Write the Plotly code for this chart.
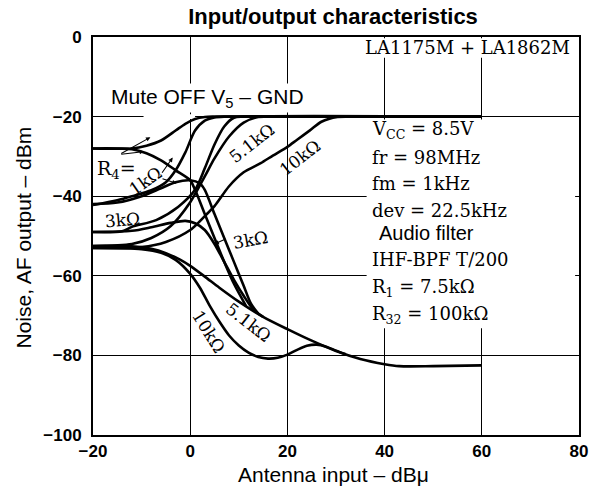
import plotly.graph_objects as go

# ---------------- data ----------------
# Signal (AF output) curves, rising to -20 dBm
sig0_x = [-20, -12, -9, -6, -3, -1, 1, 3, 5, 20, 40, 60]
sig0_y = [-28, -28, -27.3, -26, -23.5, -21.8, -20.6, -20.1, -20, -20, -20, -20]
sig1k_x = [-20, -15, -12, -8, -5, -3, -1, 1, 3, 5, 7, 20, 60]
sig1k_y = [-42.2, -41, -40, -38.5, -36.5, -33.5, -29, -23.5, -21, -20.2, -20, -20, -20]
sig3k_x = [-20, -14, -12, -7, -2.5, 1, 3, 5, 7, 9, 11, 60]
sig3k_y = [-49, -48.8, -47.7, -46, -42.7, -38.4, -33, -27, -22.5, -20.3, -20, -20]
sig5k_x = [-20, -12, -8, -4, 0, 3, 5, 8, 11, 14, 16, 60]
sig5k_y = [-52.5, -52, -50.5, -47.5, -41.5, -35, -30.5, -25, -21.5, -20.1, -20, -20]
sig10k_x = [-20, -10, -5, 0, 3, 5, 8, 11, 14.5, 17, 20, 22, 24.7, 27, 30.3, 33, 60]
sig10k_y = [-53, -52.8, -51.5, -48.5, -45, -42.5, -37.5, -34, -31.7, -29.8, -27.6, -25.8,
            -23.4, -21.3, -20.1, -20, -20]

# Noise curves, falling to about -83 dBm
noi0_x = [-20, -12, -9, -6, -3, 0, 1, 3, 5, 7, 9, 11.5]
noi0_y = [-28, -28.2, -29.2, -31, -33.5, -36, -38.4, -44.5, -50.5, -56.5, -62, -67.6]
noi1k_x = [-20, -15, -10, -6, -3, 0, 2, 3, 5, 7, 9, 11, 12.5, 14]
noi1k_y = [-42, -41.6, -40, -38, -36.5, -36, -36.8, -38.4, -44.5, -50.5, -56.5, -62.5, -67, -69.5]
noi3k_x = [-20, -12, -8, -4, -1, 1, 3, 5, 7, 9, 11, 13, 15]
noi3k_y = [-49, -48.7, -47.8, -46.7, -46.2, -46.8, -48.5, -52, -56.5, -61, -65, -68.5, -70.3]
noi5k_x = [-20, -12, -8, -5, -2, 0, 3, 6, 10, 15, 20, 25, 30, 35, 40, 43, 50, 60]
noi5k_y = [-52.5, -52.6, -53.2, -54.3, -56, -57.5, -60.2, -63, -66.5, -70.3, -73.4, -76.3,
           -78.9, -80.9, -82.2, -82.7, -82.7, -82.5]
noi10k_x = [-20, -10, -6, -3, 0, 2, 4, 6, 8, 10, 12, 14, 16, 18, 20, 22, 24, 26, 28, 30, 32]
noi10k_y = [-53, -53.3, -54.2, -56, -59.5, -63, -67.5, -71.5, -75, -77.5, -79.3, -80.4, -80.8,
            -80.6, -79.8, -78.6, -77.6, -77.3, -77.8, -78.8, -79.7]

x_ticks = [-20, 0, 20, 40, 60, 80]
y_ticks = [0, -20, -40, -60, -80, -100]

conditions = ["V<sub>CC</sub> = 8.5V", "fr = 98MHz", "fm = 1kHz", "dev = 22.5kHz",
              "Audio filter", "IHF-BPF T/200", "R<sub>1</sub> = 7.5kΩ", "R<sub>32</sub> = 100kΩ"]
cond_y = [-23.4, -30.2, -36.7, -43.5, -49.2, -56, -63, -69.8]

SERIF = "DejaVu Serif"
SANS = "Liberation Sans"

fig = go.Figure()
curves = [(sig0_x, sig0_y), (sig1k_x, sig1k_y), (sig3k_x, sig3k_y), (sig5k_x, sig5k_y),
          (sig10k_x, sig10k_y), (noi0_x, noi0_y), (noi1k_x, noi1k_y), (noi3k_x, noi3k_y),
          (noi5k_x, noi5k_y), (noi10k_x, noi10k_y)]
for cx, cy in curves:
    fig.add_trace(go.Scatter(x=cx, y=cy, mode="lines",
                             line=dict(color="black", width=2.6, shape="spline", smoothing=0.8),
                             showlegend=False, hoverinfo="skip"))

# white boxes hiding grid behind the text blocks
fig.add_shape(type="rect", x0=36.3, x1=79.2, y0=-73.2, y1=-20.7, xref="x", yref="y",
              fillcolor="white", line=dict(width=0), layer="between")
fig.add_shape(type="rect", x0=33.0, x1=79.2, y0=-5.2, y1=-0.3, xref="x", yref="y",
              fillcolor="white", line=dict(width=0), layer="between")
fig.add_shape(type="rect", x0=-9.6, x1=1.0, y0=-20.6, y1=-19.4, xref="x", yref="y",
              fillcolor="white", line=dict(width=0), layer="between")

ann = []
ann.append(dict(x=78.6, y=-2.6, text="LA1175M + LA1862M", xanchor="right", yanchor="middle",
                showarrow=False, font=dict(family=SERIF, size=18, color="black")))
for t, yy in zip(conditions, cond_y):
    is_sans = t == "Audio filter"
    ann.append(dict(x=38.4 if is_sans else 37.0, y=yy, text=t, xanchor="left",
                    yanchor="middle", showarrow=False,
                    font=dict(family=SANS if is_sans else SERIF, size=20 if is_sans else 18,
                              color="black")))

ann.append(dict(x=-16.8, y=-15.2, text="Mute OFF V<sub>5</sub> – GND", xanchor="left",
                yanchor="middle", showarrow=False, bgcolor="white",
                font=dict(family=SANS, size=21, color="black")))

# curve labels
ann.append(dict(x=-19.6, y=-33.4, text="R<sub>4</sub>=", xanchor="left", yanchor="middle",
                showarrow=False, font=dict(family=SERIF, size=19, color="black")))
lab = dict(showarrow=False, font=dict(family=SERIF, size=17, color="black"))
ann.append(dict(x=-9.2, y=-36.2, text="1kΩ", textangle=-35, **lab))
ann.append(dict(x=-13.9, y=-46, text="3kΩ", textangle=-5, **lab))
ann.append(dict(x=12.4, y=-51, text="3kΩ", textangle=-10, **lab))
ann.append(dict(x=12.7, y=-26.6, text="5.1kΩ", textangle=-38, **lab))
ann.append(dict(x=22.5, y=-30.4, text="10kΩ", textangle=-38, **lab))
ann.append(dict(x=11.9, y=-71.6, text="5.1kΩ", textangle=38, **lab))
ann.append(dict(x=3.9, y=-74, text="10kΩ", textangle=58, **lab))

# small pointer arrows
arrows = [((-14.5, -29.5), (-8.2, -25.2)), ((-14.5, -29.5), (-9.5, -28.8)),
          ((-6.0, -34.5), (-3.6, -30.3)), ((-6.0, -35.5), (-2.8, -36.8)),
          ((7.6, -50.6), (5.0, -52.0))]
for (sx, sy), (ex, ey) in arrows:
    ann.append(dict(x=ex, y=ey, ax=sx, ay=sy, xref="x", yref="y", axref="x", ayref="y",
                    text="", showarrow=True, arrowhead=2, arrowsize=0.8, arrowwidth=1.1,
                    arrowcolor="black"))

# axis titles
ann.append(dict(x=0.494, y=-0.098, xref="paper", yref="paper", text="Antenna input – dBμ",
                showarrow=False, xanchor="center", yanchor="middle",
                font=dict(family=SANS, size=21, color="black")))
ann.append(dict(x=-0.143, y=0.495, xref="paper", yref="paper", text="Noise, AF output – dBm",
                showarrow=False, textangle=-90, xanchor="center", yanchor="middle",
                font=dict(family=SANS, size=21, color="black")))

fig.update_layout(
    width=600, height=486,
    margin=dict(l=93, r=17, t=37, b=51),
    paper_bgcolor="white", plot_bgcolor="white",
    title=dict(text="<b>Input/output characteristics</b>", x=0.555, y=0.967,
               xanchor="center", yanchor="middle",
               font=dict(family=SANS, size=22, color="black")),
    annotations=ann,
    showlegend=False,
)
axis_common = dict(showgrid=True, gridcolor="black", gridwidth=1.2, zeroline=False,
                   showline=True, linecolor="black", linewidth=2, mirror=True,
                   ticks="", tickfont=dict(family=SANS, size=17, color="black", weight="bold"))
fig.update_xaxes(range=[-20, 80], tickvals=x_ticks, **axis_common)
fig.update_yaxes(range=[-100, 0], tickvals=y_ticks, ticklabelstandoff=6, **axis_common)

# remove the default 8px page margin so the figure fills the window exactly
fig.write_html("out.html", config={"displayModeBar": False},
               post_script="document.body.style.margin='0px';")
